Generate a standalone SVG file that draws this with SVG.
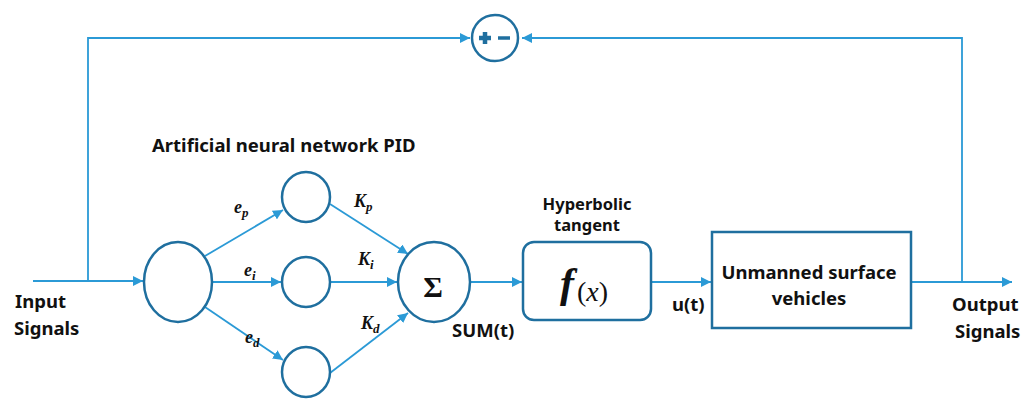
<svg xmlns="http://www.w3.org/2000/svg" width="1035" height="403" viewBox="0 0 1035 403">
<defs>
<marker id="arr" viewBox="0 0 10 10" refX="10" refY="5" markerWidth="10" markerHeight="10" markerUnits="userSpaceOnUse" orient="auto">
<path d="M0,0 L10,5 L0,10 Z" fill="#2b9ad6"/>
</marker>
</defs>
<style>
.ln{stroke:#2b9ad6;stroke-width:1.8;fill:none}
.nd{stroke:#1f6f9f;stroke-width:2.5;fill:#fff}
.t{font-family:"Noto Sans","Open Sans",sans-serif;font-weight:bold;fill:#111}
.m{font-family:"Liberation Serif",serif;font-style:italic;font-weight:bold;fill:#111}
</style>
<rect width="1035" height="403" fill="#fff"/>
<g id="connectors">
<line class="ln" x1="33" y1="281" x2="143" y2="281" marker-end="url(#arr)"/>
<polyline class="ln" points="88,281 88,38 470,38" marker-end="url(#arr)"/>
<polyline class="ln" points="962,282 962,38 522,38" marker-end="url(#arr)"/>
<line class="ln" x1="205" y1="256" x2="283" y2="210" marker-end="url(#arr)"/>
<line class="ln" x1="212" y1="282" x2="281" y2="282" marker-end="url(#arr)"/>
<line class="ln" x1="205" y1="307" x2="283" y2="360" marker-end="url(#arr)"/>
<line class="ln" x1="330" y1="204" x2="408" y2="254" marker-end="url(#arr)"/>
<line class="ln" x1="331" y1="282" x2="397" y2="282" marker-end="url(#arr)"/>
<line class="ln" x1="330" y1="373" x2="408" y2="313" marker-end="url(#arr)"/>
<line class="ln" x1="471" y1="282" x2="522" y2="282" marker-end="url(#arr)"/>
<line class="ln" x1="652" y1="282" x2="711" y2="282" marker-end="url(#arr)"/>
<line class="ln" x1="912" y1="282" x2="1012" y2="282" marker-end="url(#arr)"/>
</g>
<g id="sumjunction">
<circle class="nd" cx="495" cy="38" r="23"/>
<path d="M479,38 H491 M485,32 V44" stroke="#1f6f9f" stroke-width="4.5"/>
<path d="M498,38 H510" stroke="#1f6f9f" stroke-width="3.5"/>
</g>
<g id="input">
<ellipse class="nd" cx="178" cy="282" rx="34" ry="40"/>
</g>
<g id="np">
<ellipse class="nd" cx="306" cy="197" rx="24" ry="25"/>
</g>
<g id="ni">
<ellipse class="nd" cx="306" cy="282" rx="24" ry="25"/>
</g>
<g id="nd">
<ellipse class="nd" cx="306" cy="372" rx="24" ry="25"/>
</g>
<g id="sigma">
<ellipse class="nd" cx="434" cy="282" rx="36" ry="40"/>
<text x="433" y="297" text-anchor="middle" font-family="Liberation Serif,serif" font-weight="bold" font-size="30" fill="#111">Σ</text>
</g>
<g id="tanh">
<rect class="nd" x="523" y="242" width="128" height="78" rx="11"/>
<text x="584" y="297" text-anchor="middle"><tspan class="m" font-size="42">f</tspan><tspan font-family="Liberation Serif,serif" font-size="28" fill="#111" dx="3" dy="4">(<tspan font-style="italic">x</tspan>)</tspan></text>
</g>
<g id="usv">
<rect x="712" y="232" width="199" height="96" fill="#fff" stroke="#1f6f9f" stroke-width="2.5"/>
<text class="t" x="809" y="279" text-anchor="middle" font-size="18.5">Unmanned surface</text>
<text class="t" x="809" y="305" text-anchor="middle" font-size="18.5">vehicles</text>
</g>
<g id="labels">
<text class="t" x="15" y="308" font-size="18.5">Input</text>
<text class="t" x="14" y="335" font-size="18.5">Signals</text>
<text class="t" x="952" y="311" font-size="18.5">Output</text>
<text class="t" x="955" y="338" font-size="18.5">Signals</text>
<text class="t" x="152" y="152" font-size="18.5">Artificial neural network PID</text>
<text class="t" x="587" y="210" text-anchor="middle" font-size="16.5">Hyperbolic</text>
<text class="t" x="587" y="231" text-anchor="middle" font-size="16.5">tangent</text>
<text class="t" x="452" y="337" font-size="18.5">SUM(t)</text>
<text class="t" x="672" y="311" font-size="18.5">u(t)</text>
<text class="m" x="234" y="213" font-size="18">e<tspan font-size="13" dy="4">p</tspan></text>
<text class="m" x="244" y="276" font-size="18">e<tspan font-size="13" dy="4">i</tspan></text>
<text class="m" x="245" y="343" font-size="18">e<tspan font-size="13" dy="4">d</tspan></text>
<text class="m" x="354" y="207" font-size="18">K<tspan font-size="13" dy="4">p</tspan></text>
<text class="m" x="358" y="265" font-size="18">K<tspan font-size="13" dy="4">i</tspan></text>
<text class="m" x="361" y="329" font-size="18">K<tspan font-size="13" dy="4">d</tspan></text>
</g>
</svg>
